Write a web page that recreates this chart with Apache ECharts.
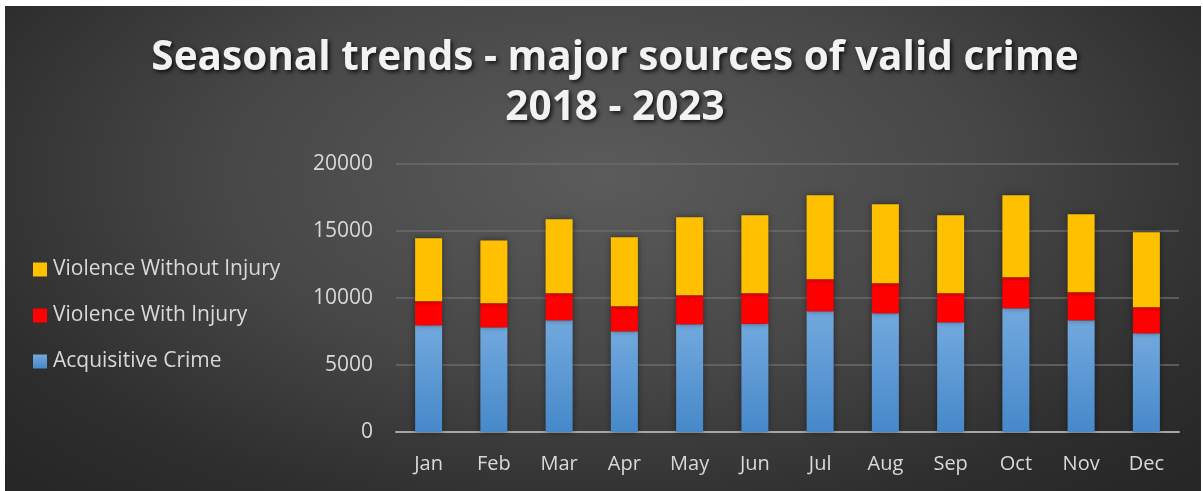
<!DOCTYPE html>
<html>
<head>
<meta charset="utf-8">
<script src="https://cdn.jsdelivr.net/npm/echarts@6/dist/echarts.min.js"></script>
<style>
html,body{margin:0;padding:0;background:#ffffff;width:1203px;height:491px;overflow:hidden;}
#wrap{position:absolute;left:5px;top:6px;width:1196px;height:485px;
background:radial-gradient(ellipse 70% 90% at 50% 35%, #5b5b5b 0%, #474747 45%, #2e2e2e 80%, #262626 100%);}
#chart{width:1196px;height:485px;}
</style>
</head>
<body>
<div id="wrap"><div id="chart"></div></div>
<script>
const months = ['Jan','Feb','Mar','Apr','May','Jun','Jul','Aug','Sep','Oct','Nov','Dec'];
const acquisitive = [7960, 7810, 8340, 7510, 8040, 8080, 9010, 8860, 8190, 9230, 8340, 7370];
const violenceWithInjury = [1790, 1790, 2010, 1870, 2160, 2270, 2390, 2240, 2160, 2310, 2090, 1940];
const violenceWithoutInjury = [4700, 4700, 5520, 5150, 5820, 5820, 6270, 5900, 5820, 6120, 5820, 5600];
const yTicks = [0, 5000, 10000, 15000, 20000];
const titleText = 'Seasonal trends - major sources of valid crime\n2018 - 2023';

const chart = echarts.init(document.getElementById('chart'), null, {renderer: 'canvas'});
const labelColor = '#d9d9d9';
const font = "'Open Sans', sans-serif";
const shadow = {shadowColor: 'rgba(0,0,0,0.45)', shadowBlur: 6, shadowOffsetX: 0, shadowOffsetY: 0};

chart.setOption({
  animation: false,
  title: {
    text: titleText,
    left: 610,
    textAlign: 'center',
    top: 27,
    padding: 0,
    textStyle: {
      color: '#f2f2f2', fontSize: 40.5, fontWeight: 'bold', fontFamily: font,
      lineHeight: 50,
      textShadowColor: 'rgba(0,0,0,0.8)', textShadowBlur: 4, textShadowOffsetX: 2, textShadowOffsetY: 2
    }
  },
  legend: {
    orient: 'vertical',
    left: 28,
    top: 253,
    padding: 0,
    itemGap: 25,
    itemWidth: 14,
    itemHeight: 14,
    icon: 'rect',
    data: ['Violence Without Injury', 'Violence With Injury', 'Acquisitive Crime'],
    textStyle: {color: labelColor, fontSize: 21, fontFamily: font, padding: [0, 0, 0, 1]}
  },
  grid: {left: 391, right: 22, top: 158, bottom: 59, containLabel: false},
  xAxis: {
    type: 'category',
    data: months,
    axisLine: {lineStyle: {color: '#a6a6a6', width: 2}},
    axisTick: {show: false},
    axisLabel: {color: labelColor, fontSize: 20, fontFamily: font, margin: 22}
  },
  yAxis: {
    type: 'value',
    min: yTicks[0],
    max: yTicks[yTicks.length - 1],
    interval: 5000,
    axisLine: {show: false},
    axisTick: {show: false},
    splitLine: {lineStyle: {color: '#6b6b6b', width: 1.5}},
    axisLabel: {color: labelColor, fontSize: 21, fontFamily: font, margin: 23, formatter: v => String(v)}
  },
  series: [
    {
      name: 'Acquisitive Crime', type: 'bar', stack: 'total', barWidth: 27,
      data: acquisitive,
      itemStyle: Object.assign({
        color: new echarts.graphic.LinearGradient(0, 0, 0, 1, [
          {offset: 0, color: '#72a9de'}, {offset: 1, color: '#4688c9'}
        ])
      }, shadow)
    },
    {
      name: 'Violence With Injury', type: 'bar', stack: 'total', barWidth: 27,
      data: violenceWithInjury,
      itemStyle: Object.assign({color: '#ff0000'}, shadow)
    },
    {
      name: 'Violence Without Injury', type: 'bar', stack: 'total', barWidth: 27,
      data: violenceWithoutInjury,
      itemStyle: Object.assign({color: '#ffc000'}, shadow)
    }
  ]
});
</script>
</body>
</html>
